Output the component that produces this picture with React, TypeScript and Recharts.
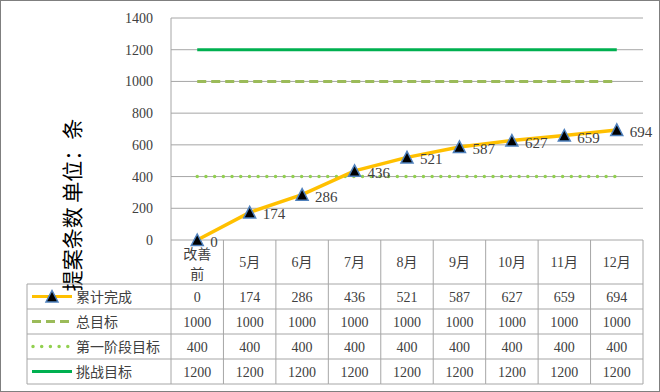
import React from 'react';
import { LineChart, Line, XAxis, YAxis, CartesianGrid } from 'recharts';

const categories = ['改善前', '5月', '6月', '7月', '8月', '9月', '10月', '11月', '12月'];
const cumulativeDone = [0, 174, 286, 436, 521, 587, 627, 659, 694];
const totalTarget = [1000, 1000, 1000, 1000, 1000, 1000, 1000, 1000, 1000];
const phaseOneTarget = [400, 400, 400, 400, 400, 400, 400, 400, 400];
const challengeTarget = [1200, 1200, 1200, 1200, 1200, 1200, 1200, 1200, 1200];
const yTicks = [0, 200, 400, 600, 800, 1000, 1200, 1400];
const seriesNames = ['累计完成', '总目标', '第一阶段目标', '挑战目标'];
const yTitle = '提案条数 单位：条';

const data = categories.map((cat, i) => ({
  cat,
  done: cumulativeDone[i],
  total: totalTarget[i],
  phase1: phaseOneTarget[i],
  challenge: challengeTarget[i],
}));

const tableRows = [cumulativeDone, totalTarget, phaseOneTarget, challengeTarget];

const FONT = '"Liberation Serif", "DejaVu Serif", "Noto Sans CJK SC", serif';
const GRID = '#a6a6a6';
const TEXT = '#404040';

// layout
const W = 660;
const H = 392;
const PLOT_LEFT = 171;
const PLOT_RIGHT = 643;
const PLOT_TOP = 18;
const PLOT_BOTTOM = 240;
const COL_W = (PLOT_RIGHT - PLOT_LEFT) / categories.length;
const HEADER_BOTTOM = 284;
const ROW_H = 25;
const LEGEND_LEFT = 27;

const Triangle = (cx: number, cy: number, key?: string | number) => (
  <path
    key={key}
    d={`M${cx},${cy - 6} L${cx + 6},${cy + 5.5} L${cx - 6},${cy + 5.5} Z`}
    fill="#000"
    stroke="#4F81BD"
    strokeWidth={1.5}
  />
);

const legendSample = (row: number, y: number) => {
  const x1 = 32;
  const x2 = 72;
  if (row === 0)
    return (
      <g>
        <line x1={x1} x2={x2} y1={y} y2={y} stroke="#FFC000" strokeWidth={3} />
        {Triangle(52, y)}
      </g>
    );
  if (row === 1)
    return <line x1={x1} x2={x2} y1={y} y2={y} stroke="#9BBB59" strokeWidth={3} strokeDasharray="9 5" />;
  if (row === 2)
    return (
      <line x1={x1 + 1} x2={x2} y1={y} y2={y} stroke="#92D050" strokeWidth={3.5} strokeLinecap="round" strokeDasharray="0 8.7" />
    );
  return <line x1={x1} x2={x2} y1={y} y2={y} stroke="#00B050" strokeWidth={3} />;
};

const TableTick = (props: any) => {
  const { x, payload, index } = props;
  const left = x - COL_W / 2;
  const right = x + COL_W / 2;
  const tableBottom = HEADER_BOTTOM + ROW_H * tableRows.length;
  const label: string = payload.value;
  return (
    <g>
      <line x1={left} x2={left} y1={PLOT_BOTTOM} y2={tableBottom} stroke={GRID} />
      {index === categories.length - 1 && (
        <line x1={right} x2={right} y1={PLOT_BOTTOM} y2={tableBottom} stroke={GRID} />
      )}
      {!label.endsWith('月') ? (
        <text textAnchor="middle" fontFamily={FONT} fontSize={14} fill={TEXT}>
          <tspan x={x} y={259}>{label.slice(0, 2)}</tspan>
          <tspan x={x} y={279}>{label.slice(2)}</tspan>
        </text>
      ) : (
        <text x={x} y={267} textAnchor="middle" fontFamily={FONT} fontSize={14} fill={TEXT}>
          {label}
        </text>
      )}
      {tableRows.map((vals, r) => {
        const top = HEADER_BOTTOM + r * ROW_H;
        return (
          <g key={r}>
            <line x1={left} x2={right} y1={top} y2={top} stroke={GRID} />
            <text x={x} y={top + ROW_H / 2 + 5} textAnchor="middle" fontFamily={FONT} fontSize={14} fill={TEXT}>
              {vals[index]}
            </text>
          </g>
        );
      })}
      <line x1={left} x2={right} y1={tableBottom} y2={tableBottom} stroke={GRID} />
      {index === 0 && (
        <g>
          <line x1={LEGEND_LEFT} x2={LEGEND_LEFT} y1={HEADER_BOTTOM} y2={tableBottom} stroke={GRID} />
          {seriesNames.map((name, r) => {
            const top = HEADER_BOTTOM + r * ROW_H;
            const cy = top + ROW_H / 2;
            return (
              <g key={name}>
                <line x1={LEGEND_LEFT} x2={left} y1={top} y2={top} stroke={GRID} />
                {legendSample(r, cy)}
                <text x={76} y={cy + 5} fontFamily={FONT} fontSize={14} fill={TEXT}>
                  {name}
                </text>
              </g>
            );
          })}
          <line x1={LEGEND_LEFT} x2={left} y1={tableBottom} y2={tableBottom} stroke={GRID} />
        </g>
      )}
    </g>
  );
};

const PointLabel = (props: any) => {
  const { x, y, value } = props;
  return (
    <text x={x + 13} y={y + 7} fontFamily={FONT} fontSize={15} fill={TEXT}>
      {value}
    </text>
  );
};

const YTitle = () => (
  <text
    x={80}
    y={205}
    transform="rotate(-90 80 205)"
    textAnchor="middle"
    fontFamily='"Noto Sans CJK SC", sans-serif'
    fontSize={21}
    fill="#000"
  >
    {yTitle}
  </text>
);

export default function App() {
  return (
    <div style={{ position: 'absolute', left: 0, top: 0, width: W, height: H, background: '#fff' }}>
      <LineChart
        width={W}
        height={H}
        data={data}
        margin={{ top: PLOT_TOP, right: W - PLOT_RIGHT, left: 0, bottom: 8 }}
      >
        <CartesianGrid horizontal vertical={false} stroke={GRID} />
        <XAxis
          dataKey="cat"
          height={H - 8 - PLOT_BOTTOM}
          axisLine={false}
          tickLine={false}
          interval={0}
          padding={{ left: COL_W / 2, right: COL_W / 2 }}
          tick={<TableTick />}
        />
        <YAxis
          width={PLOT_LEFT}
          domain={[0, 1400]}
          ticks={yTicks}
          axisLine={{ stroke: GRID }}
          tickLine={false}
          tickSize={6}
          tickMargin={12}
          tick={{ fontFamily: FONT, fontSize: 14, fill: TEXT }}
          label={<YTitle />}
        />
        <Line dataKey="challenge" stroke="#00B050" strokeWidth={3} dot={false} isAnimationActive={false} />
        <Line dataKey="total" stroke="#9BBB59" strokeWidth={3} strokeDasharray="9 5" dot={false} isAnimationActive={false} />
        <Line
          dataKey="phase1"
          stroke="#92D050"
          strokeWidth={3.5}
          strokeLinecap="round"
          strokeDasharray="0 8.7"
          dot={false}
          isAnimationActive={false}
        />
        <Line
          dataKey="done"
          stroke="#FFC000"
          strokeWidth={3.5}
          dot={(p: any) => Triangle(p.cx, p.cy, p.index)}
          label={<PointLabel />}
          isAnimationActive={false}
        />
      </LineChart>
      <div
        style={{
          position: 'absolute',
          left: 0,
          top: 0,
          width: W - 2,
          height: H - 2,
          border: '1px solid #7f7f7f',
          pointerEvents: 'none',
        }}
      />
    </div>
  );
}
